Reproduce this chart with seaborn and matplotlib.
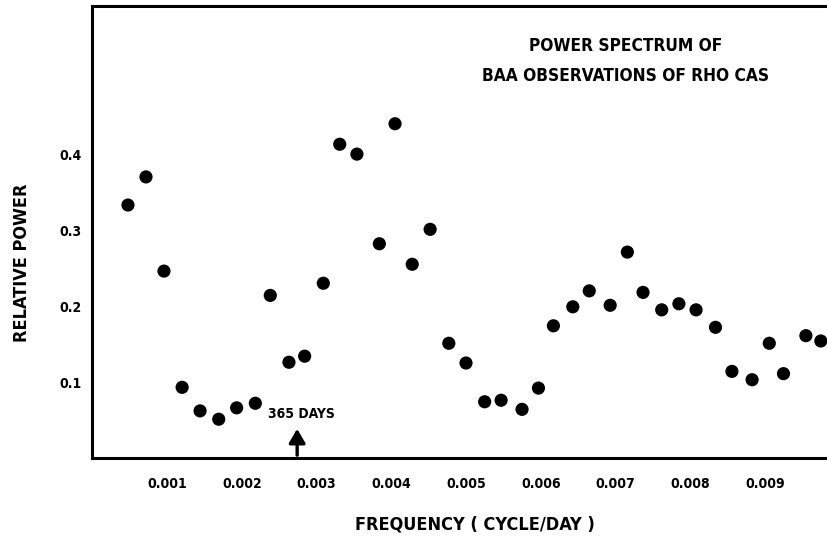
import matplotlib
matplotlib.use("Agg")
import matplotlib.pyplot as plt
import seaborn as sns

# power spectrum values
freq = [0.000475, 0.000716, 0.000957, 0.00120, 0.00144, 0.00169, 0.00193, 0.00218,
        0.00238, 0.00263, 0.00284, 0.00309, 0.00331, 0.00354, 0.00384, 0.00405,
        0.00428, 0.00452, 0.00477, 0.00500, 0.00525, 0.00547, 0.00575, 0.00597,
        0.00617, 0.00643, 0.00665, 0.00693, 0.00716, 0.00737, 0.00762, 0.00785,
        0.00808, 0.00834, 0.00856, 0.00883, 0.00906, 0.00925, 0.00955, 0.00975]
power = [0.333, 0.370, 0.246, 0.093, 0.062, 0.051, 0.066, 0.072,
         0.214, 0.126, 0.134, 0.230, 0.413, 0.400, 0.282, 0.440,
         0.255, 0.301, 0.151, 0.125, 0.074, 0.076, 0.064, 0.092,
         0.174, 0.199, 0.220, 0.201, 0.271, 0.218, 0.195, 0.203,
         0.195, 0.172, 0.114, 0.103, 0.151, 0.111, 0.161, 0.154]

x_labels = ["0.001", "0.002", "0.003", "0.004", "0.005", "0.006", "0.007", "0.008", "0.009"]
x_label_pos = [0.001, 0.002, 0.003, 0.004, 0.005, 0.006, 0.007, 0.008, 0.009]
x_tick_marks = [0.002, 0.004, 0.006, 0.008]
y_ticks = [0.1, 0.2, 0.3, 0.4]
year_freq = 1 / 365

sns.set_style("white")
plt.rcParams["font.family"] = ["DejaVu Sans"]
plt.rcParams["font.stretch"] = "condensed"
plt.rcParams["font.weight"] = "bold"
plt.rcParams["text.color"] = "black"
plt.rcParams["xtick.color"] = "black"
plt.rcParams["ytick.color"] = "black"

fig = plt.figure(figsize=(8.28, 5.4), dpi=100)
ax = fig.add_axes([0.1117, 0.1519, 0.8883, 0.837])

sns.scatterplot(x=freq, y=power, color="black", s=90, edgecolor="none", ax=ax, zorder=3)

ax.set_xlim(0, 0.009846)
ax.set_ylim(0, 0.595)

for side in ["left", "top", "bottom"]:
    ax.spines[side].set_linewidth(2.2)
    ax.spines[side].set_color("black")
ax.spines["right"].set_visible(False)

ax.set_xticks(x_label_pos)
ax.set_xticklabels(x_labels, fontsize=10, fontweight="bold")
ax.set_xticks(x_tick_marks, minor=True)
ax.tick_params(axis="x", which="major", length=0, pad=14)
ax.tick_params(axis="x", which="minor", direction="in", length=7, width=1.5)

ax.set_yticks(y_ticks)
ax.set_yticklabels([str(v) for v in y_ticks], fontsize=10, fontweight="bold")
ax.tick_params(axis="y", direction="in", length=9, width=1.5, pad=8)

fig.text(475 / 828, 1 - 524 / 540, "FREQUENCY ( CYCLE/DAY )", ha="center", va="center",
         fontsize=13, fontweight="bold")
fig.text(22 / 828, 1 - 263 / 540, "RELATIVE POWER", ha="center", va="center",
         rotation=90, fontsize=13, fontweight="bold")

ax.text(0.725, 0.878, "POWER SPECTRUM OF\nBAA OBSERVATIONS OF RHO CAS", transform=ax.transAxes,
        ha="center", va="center", fontsize=12.4, fontweight="bold", linespacing=1.85)

ax.annotate("", xy=(year_freq, 0.042), xytext=(year_freq, 0.0),
            arrowprops=dict(arrowstyle="-|>,head_length=0.6,head_width=0.35", color="black",
                            lw=2.4, mutation_scale=14))
ax.text(year_freq + 0.00006, 0.058, "365 DAYS", ha="center", va="center", fontsize=10,
        fontweight="bold")

fig.savefig("out.png", dpi=100)
